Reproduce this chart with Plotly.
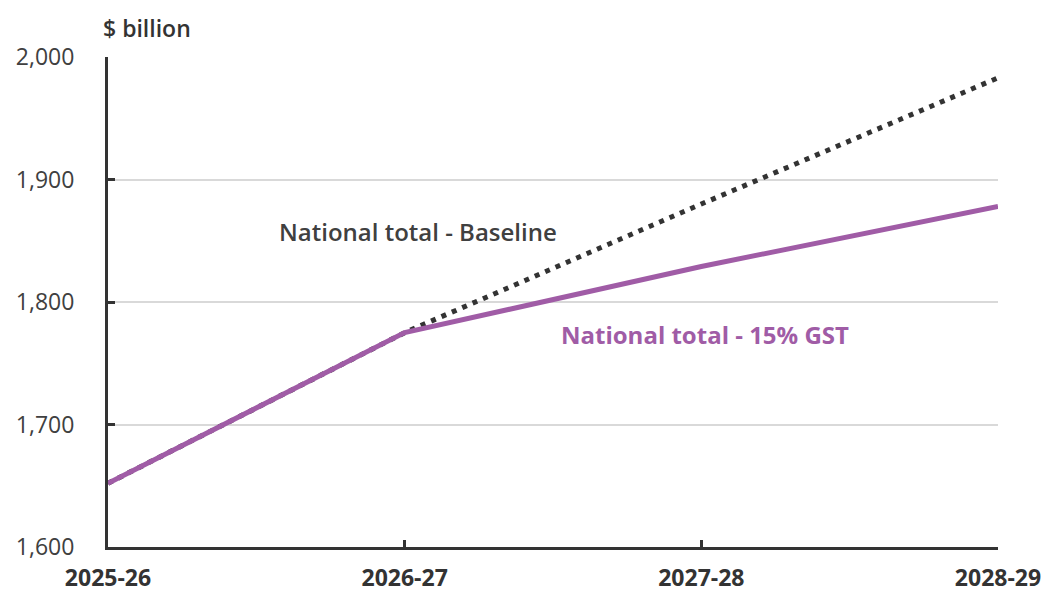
import plotly.graph_objects as go

years = ["2025-26", "2026-27", "2027-28", "2028-29"]
baseline = [1652, 1775, 1880, 1983]
gst15 = [1652, 1775, 1829, 1878]
y_ticks = [1600, 1700, 1800, 1900, 2000]
y_tick_labels = ["1,600", "1,700", "1,800", "1,900", "2,000"]

DARK = "#333333"
TEXT = "#404040"
PURPLE = "#A05CA6"
FONT = "Open Sans"

fig = go.Figure()
fig.add_trace(go.Scatter(x=list(range(len(years))), y=baseline, mode="lines",
                         line=dict(color=DARK, width=5, dash="5px,6.3px"),
                         name="National total - Baseline", showlegend=False))
fig.add_trace(go.Scatter(x=list(range(len(years))), y=gst15, mode="lines",
                         line=dict(color=PURPLE, width=5),
                         name="National total - 15% GST", showlegend=False))

fig.add_annotation(x=1.045, y=1857.7, xref="x", yref="y", text="National total - Baseline",
                   showarrow=False, font=dict(family=FONT, size=24, color=TEXT, weight=600))
fig.add_annotation(x=2.012, y=1773.4, xref="x", yref="y", text="National total - 15% GST",
                   showarrow=False, font=dict(family=FONT, size=24, color=PURPLE, weight=700))
fig.add_annotation(x=-0.008, y=1.059, xref="paper", yref="paper", text="$ billion",
                   showarrow=False, xanchor="left", yanchor="middle",
                   font=dict(family=FONT, size=23, color=DARK, weight=600))

fig.update_layout(
    width=1046, height=592,
    margin=dict(l=108, r=48, t=57, b=45, autoexpand=False),
    plot_bgcolor="white", paper_bgcolor="white",
    font=dict(family=FONT, color=TEXT),
)
fig.update_xaxes(
    range=[0, 3], tickmode="array", tickvals=list(range(len(years))), ticktext=years,
    showgrid=False, zeroline=False, showline=True, linecolor=DARK, linewidth=3,
    ticks="inside", ticklen=7, tickwidth=3, tickcolor=DARK,
    tickfont=dict(family=FONT, size=23, color=DARK, weight=700),
    ticklabelstandoff=8, automargin=False,
)
fig.update_yaxes(
    range=[1600, 2000], tickmode="array", tickvals=y_ticks, ticktext=y_tick_labels,
    showgrid=True, gridcolor="#D9D9D9", gridwidth=1.5, zeroline=False,
    showline=True, linecolor=DARK, linewidth=3,
    ticks="inside", ticklen=7, tickwidth=3, tickcolor=DARK,
    tickfont=dict(family=FONT, size=23, color=TEXT, weight=500),
    ticklabelstandoff=26, automargin=False,
)
fig.write_html("out.html")
